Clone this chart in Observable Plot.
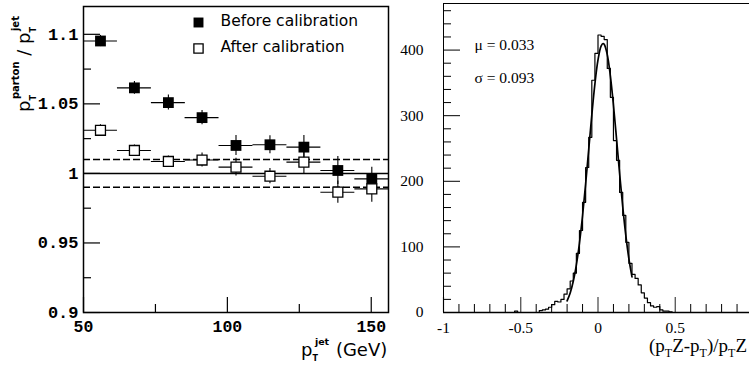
<!DOCTYPE html>
<html><head><meta charset="utf-8">
<script src="https://cdn.jsdelivr.net/npm/d3@7"></script>
<script src="https://cdn.jsdelivr.net/npm/@observablehq/plot@0.6"></script>
<style>
body{margin:0;background:#fff;}
#wrap{position:relative;width:749px;height:369px;overflow:hidden;background:#fff;}
#left{position:absolute;left:0;top:0;width:390px;height:369px;}
#right{position:absolute;left:390px;top:0;width:362px;height:369px;}
svg{overflow:visible;}
</style></head><body><div id="wrap"><div id="left"></div><div id="right"></div></div>
<script>
// ---------- Left panel data ----------
const ptJet      = [55.9, 67.7, 79.5, 91.2, 103.0, 114.8, 126.6, 138.4, 150.2];
const ptHalfBin  = [5.9, 5.9, 5.9, 5.9, 5.9, 5.9, 5.9, 5.9, 5.9];
const ratioBefore = [1.0952, 1.0615, 1.0509, 1.0401, 1.0201, 1.0206, 1.0189, 1.0021, 0.9961];
const errBefore   = [0.0040, 0.0045, 0.0054, 0.0052, 0.0072, 0.0065, 0.0084, 0.0100, 0.0084];
const ratioAfter  = [1.0310, 1.0165, 1.0086, 1.0096, 1.0045, 0.9980, 1.0081, 0.9865, 0.9889];
const errAfter    = [0.0040, 0.0040, 0.0040, 0.0050, 0.0064, 0.0055, 0.0084, 0.0080, 0.0096];
const unityLine = [1.0];
const bandLines = [0.99, 1.01];
const legendLabels = ["Before calibration", "After calibration"];
const yMajorL = [0.9, 0.95, 1, 1.05, 1.1];
const yMinorL = [0.925, 0.975, 1.025, 1.075];
const xMajorL = [50, 100, 150];
const xMinorL = [75, 125];

// ---------- Right panel data ----------
const binLo = [-0.56,-0.54,-0.52,-0.50,-0.48,-0.46,-0.44,-0.42,-0.40,-0.38,-0.36,-0.34,-0.32,-0.30,-0.28,-0.26,-0.24,-0.22,-0.20,-0.18,-0.16,-0.14,-0.12,-0.10,-0.08,-0.06,-0.04,-0.02,0.00,0.02,0.04,0.06,0.08,0.10,0.12,0.14,0.16,0.18,0.20,0.22,0.24,0.26,0.28,0.30,0.32,0.34,0.36,0.38,0.40,0.42,0.44,0.46,0.48];
const counts = [0,2,0,0,0,0,0,0,0,3,4,5,8,12,17,16,20,28,36,48,60,90,125,168,221,267,354,395,423,421,416,372,328,262,232,183,148,107,75,58,52,42,30,22,15,10,8,9,4,2,2,1,0];
const histEnd = 0.50;
const fitX = [-0.20,-0.18,-0.16,-0.14,-0.12,-0.10,-0.08,-0.06,-0.04,-0.02,0.00,0.02,0.033,0.04,0.06,0.08,0.10,0.12,0.14,0.16,0.18,0.20,0.22];
const fitY = [17.8,29.8,47.6,72.7,105.9,147.5,196.0,248.7,301.3,348.5,385.0,406.0,410.0,408.8,393.1,360.8,316.3,264.7,211.5,161.4,117.5,81.8,54.3];
const fitStats = ["\u03bc = 0.033", "\u03c3 = 0.093"];
const yMajorR = [0, 100, 200, 300, 400];
const yMinorR = [20,40,60,80,120,140,160,180,220,240,260,280,320,340,360,380,420,440,460];
const xMajorR = [-1, -0.5, 0, 0.5, 1];
const xMinorR = [-0.9,-0.8,-0.7,-0.6,-0.4,-0.3,-0.2,-0.1,0.1,0.2,0.3,0.4,0.6,0.7,0.8,0.9];

const monoFont = "Liberation Mono, monospace";
const sansFont = "DejaVu Sans, sans-serif";
const serifFont = "Liberation Serif, Times New Roman, serif";

// ---------- Left panel ----------
const before = ptJet.map((x, i) => ({x, hw: ptHalfBin[i], y: ratioBefore[i], e: errBefore[i]}));
const after  = ptJet.map((x, i) => ({x, hw: ptHalfBin[i], y: ratioAfter[i],  e: errAfter[i]}));

const L = {w: 390, h: 369, ml: 83, mr: 2, mt: 6, mb: 57};
const LfW = L.w - L.ml - L.mr, LfH = L.h - L.mt - L.mb;

const left = Plot.plot({
  width: L.w, height: L.h,
  marginLeft: L.ml, marginRight: L.mr, marginTop: L.mt, marginBottom: L.mb,
  style: {color: "black", background: "white", overflow: "visible", maxWidth: "none"},
  x: {domain: [50, 156]},
  y: {domain: [0.9, 1.12]},
  marks: [
    Plot.ruleY(bandLines, {stroke: "black", strokeWidth: 1.5, strokeDasharray: "7,3"}),
    Plot.ruleY(unityLine, {stroke: "black", strokeWidth: 1.5}),
    Plot.ruleY(before, {y: "y", x1: d => d.x - d.hw, x2: d => d.x + d.hw, stroke: "black", strokeWidth: 1.1}),
    Plot.ruleX(before, {x: "x", y1: d => d.y - d.e, y2: d => d.y + d.e, stroke: "black", strokeWidth: 1.1}),
    Plot.ruleY(after, {y: "y", x1: d => d.x - d.hw, x2: d => d.x + d.hw, stroke: "black", strokeWidth: 1.1}),
    Plot.ruleX(after, {x: "x", y1: d => d.y - d.e, y2: d => d.y + d.e, stroke: "black", strokeWidth: 1.1}),
    Plot.dot(before, {x: "x", y: "y", symbol: "square", r: 6.1, fill: "black", stroke: "none"}),
    Plot.dot(after, {x: "x", y: "y", symbol: "square", r: 5.6, fill: "white", stroke: "black", strokeWidth: 1.3}),
    // legend
    Plot.dot([legendLabels[0]], {frameAnchor: "top-left", dx: 115, dy: 16, symbol: "square", r: 5.6, fill: "black"}),
    Plot.dot([legendLabels[1]], {frameAnchor: "top-left", dx: 115, dy: 42, symbol: "square", r: 5.2, fill: "white", stroke: "black", strokeWidth: 1.3}),
    Plot.text([legendLabels[0]], {frameAnchor: "top-left", dx: 137, dy: 15, text: d => d, textAnchor: "start", lineAnchor: "middle", fontFamily: sansFont, fontSize: 15.5, fill: "black"}),
    Plot.text([legendLabels[1]], {frameAnchor: "top-left", dx: 137, dy: 41, text: d => d, textAnchor: "start", lineAnchor: "middle", fontFamily: sansFont, fontSize: 15.5, fill: "black"}),
    // inward ticks
    Plot.tickY(yMajorL, {y: d => d, insetRight: LfW - 17, stroke: "black", strokeWidth: 1.2}),
    Plot.tickY(yMinorL, {y: d => d, insetRight: LfW - 8, stroke: "black", strokeWidth: 1.2}),
    Plot.tickX(xMajorL, {x: d => d, insetTop: LfH - 15, stroke: "black", strokeWidth: 1.2}),
    Plot.tickX(xMinorL, {x: d => d, insetTop: LfH - 8, stroke: "black", strokeWidth: 1.2}),
    // tick labels
    Plot.axisY(yMajorL, {anchor: "left", tickSize: 0, tickPadding: 5, tickFormat: d => String(d), label: null, fontFamily: monoFont, fontSize: 17, fontWeight: "bold"}),
    Plot.axisX(xMajorL, {anchor: "bottom", tickSize: 0, tickPadding: 8, tickFormat: d => String(d), label: null, fontFamily: monoFont, fontSize: 16.5, fontWeight: "bold"}),
    Plot.frame({stroke: "black", strokeWidth: 1.5})
  ]
});
document.getElementById("left").appendChild(left);

// ---------- Right panel ----------
const hist = binLo.map((x, i) => ({x, y: counts[i]})).concat([{x: histEnd, y: counts[counts.length - 1]}]);
const fit = fitX.map((x, i) => ({x, y: fitY[i]}));

const R = {w: 362, h: 369, ml: 53, mr: 0, mt: 3, mb: 57};
const RfW = R.w - R.ml - R.mr, RfH = R.h - R.mt - R.mb;

const right = Plot.plot({
  width: R.w, height: R.h,
  marginLeft: R.ml, marginRight: R.mr, marginTop: R.mt, marginBottom: R.mb,
  style: {color: "black", background: "white", overflow: "visible", maxWidth: "none"},
  x: {domain: [-1, 1]},
  y: {domain: [0, 471]},
  marks: [
    Plot.line(hist, {x: "x", y: "y", curve: "step-after", stroke: "black", strokeWidth: 1.2}),
    Plot.line(fit, {x: "x", y: "y", curve: "catmull-rom", stroke: "black", strokeWidth: 1.7}),
    Plot.text([fitStats[0]], {frameAnchor: "top-left", dx: 31, dy: 42, text: d => d, textAnchor: "start", lineAnchor: "middle", fontFamily: serifFont, fontSize: 15.5, fill: "black"}),
    Plot.text([fitStats[1]], {frameAnchor: "top-left", dx: 31, dy: 75, text: d => d, textAnchor: "start", lineAnchor: "middle", fontFamily: serifFont, fontSize: 15.5, fill: "black"}),
    Plot.tickY(yMajorR, {y: d => d, insetRight: RfW - 17, stroke: "black", strokeWidth: 1}),
    Plot.tickY(yMinorR, {y: d => d, insetRight: RfW - 8, stroke: "black", strokeWidth: 1}),
    Plot.tickX(xMajorR, {x: d => d, insetTop: RfH - 15, stroke: "#444", strokeWidth: 1.2}),
    Plot.tickX(xMinorR, {x: d => d, insetTop: RfH - 8, stroke: "black", strokeWidth: 1}),
    Plot.axisY(yMajorR, {anchor: "left", tickSize: 0, tickPadding: 20, tickFormat: d => String(d), label: null, fontFamily: serifFont, fontSize: 15.5}),
    Plot.axisX(xMajorR.slice(0, 4), {anchor: "bottom", tickSize: 0, tickPadding: 9, tickFormat: d => String(d), label: null, fontFamily: serifFont, fontSize: 15.5}),
    Plot.frame({stroke: "black", strokeWidth: 1}),
    Plot.ruleY([0], {stroke: "black", strokeWidth: 1.6})
  ]
});
document.getElementById("right").appendChild(right);

// ---------- Rich-text axis titles (sub/superscripts) ----------
function rich(svgNode, x, y, rotate, family, parts) {
  const t = d3.select(svgNode).append("text")
    .attr("transform", `translate(${x},${y}) rotate(${rotate})`)
    .attr("font-family", family).attr("fill", "black").attr("text-anchor", "start");
  for (const p of parts) {
    const s = t.append("tspan").text(p.t).attr("font-size", p.size);
    if (p.dx) s.attr("dx", p.dx);
    if (p.dy) s.attr("dy", p.dy);
    if (p.bold) s.attr("font-weight", "bold");
  }
}
rich(left, 301, 356, 0, sansFont, [
  {t: "p", size: 18},
  {t: "T", size: 8, bold: true, dy: 5},
  {t: "jet", size: 9.5, bold: true, dx: -3, dy: -16},
  {t: " (GeV)", size: 18, dx: 1, dy: 11}
]);
rich(left, 30, 112, -90, sansFont, [
  {t: "p", size: 18},
  {t: "T", size: 8, bold: true, dy: 6},
  {t: "parton", size: 10, bold: true, dx: -4, dy: -17},
  {t: " / ", size: 18, dy: 11},
  {t: "p", size: 18},
  {t: "T", size: 8, bold: true, dy: 6},
  {t: "jet", size: 10, bold: true, dx: -4, dy: -17},
]);
rich(right, 259, 352, 0, serifFont, [
  {t: "(p", size: 19},
  {t: "T", size: 12, dy: 5},
  {t: "Z-p", size: 19, dy: -5},
  {t: "T", size: 12, dy: 5},
  {t: ")/p", size: 19, dy: -5},
  {t: "T", size: 12, dy: 5},
  {t: "Z", size: 19, dy: -5}
]);
</script></body></html>
